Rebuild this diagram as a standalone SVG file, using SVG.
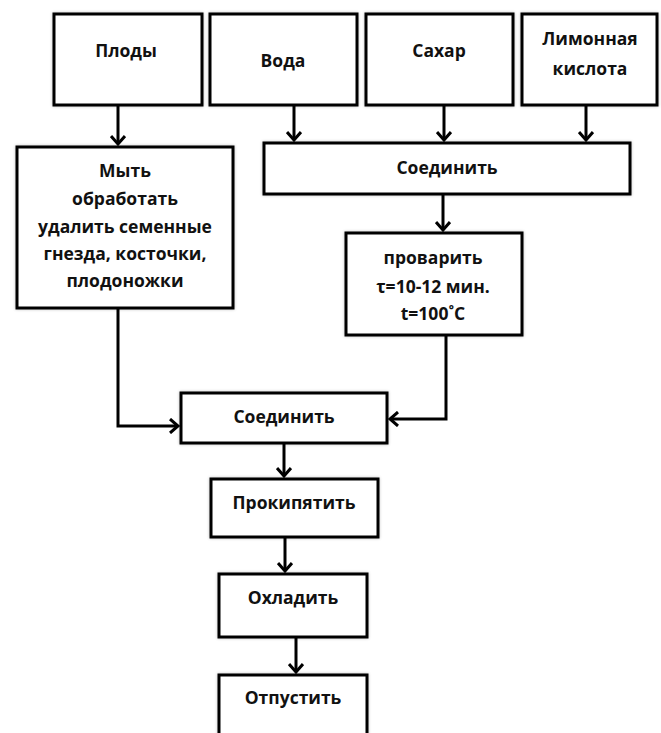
<svg xmlns="http://www.w3.org/2000/svg" width="661" height="733" viewBox="0 0 661 733">
<defs>
<style>
.box{fill:#fff;stroke:#000;stroke-width:3;filter:url(#sh)}
.t{font-family:"Open Sans","Liberation Sans",sans-serif;font-weight:bold;font-size:17.5px;fill:#111;text-anchor:middle;dominant-baseline:central}
.c{fill:none;stroke:#000;stroke-width:3;marker-end:url(#ah)}
</style>
<filter id="sh" x="-10%" y="-10%" width="120%" height="120%">
<feGaussianBlur in="SourceAlpha" stdDeviation="1.5" result="b"/>
<feFlood flood-color="#000" flood-opacity="0.25"/>
<feComposite in2="b" operator="in" result="s"/>
<feMerge><feMergeNode in="s"/><feMergeNode in="SourceGraphic"/></feMerge>
</filter>
<marker id="ah" markerUnits="userSpaceOnUse" markerWidth="14" markerHeight="16" refX="10" refY="8" orient="auto">
<path d="M2,1 L10,8 L2,15" fill="none" stroke="#000" stroke-width="3"/>
</marker>
</defs>
<rect width="661" height="733" fill="#fff"/>
<g id="plody"><rect class="box" x="54" y="14" width="148" height="91"/><text class="t" x="126" y="50">Плоды</text></g>
<g id="voda"><rect class="box" x="210" y="14" width="147" height="91"/><text class="t" x="283" y="60">Вода</text></g>
<g id="sakhar"><rect class="box" x="366" y="14" width="147" height="91"/><text class="t" x="439" y="50">Сахар</text></g>
<g id="limon"><rect class="box" x="522" y="14" width="135" height="91"/><text class="t" x="590" y="38">Лимонная</text><text class="t" x="590" y="68">кислота</text></g>
<g id="myt"><rect class="box" x="17" y="147" width="216" height="161"/>
<text class="t" x="125" y="170">Мыть</text>
<text class="t" x="125" y="198">обработать</text>
<text class="t" x="125" y="226">удалить семенные</text>
<text class="t" x="125" y="253">гнезда, косточки,</text>
<text class="t" x="125" y="280">плодоножки</text></g>
<g id="soed1"><rect class="box" x="264" y="143" width="366" height="51"/><text class="t" x="447" y="167">Соединить</text></g>
<g id="provarit"><rect class="box" x="346" y="233" width="176" height="102"/>
<text class="t" x="433" y="257">проварить</text>
<text class="t" x="433" y="286">τ=10-12 мин.</text>
<text class="t" x="433" y="313">t=100˚C</text></g>
<g id="soed2"><rect class="box" x="181" y="393" width="206" height="50"/><text class="t" x="284" y="416">Соединить</text></g>
<g id="prokip"><rect class="box" x="211" y="479" width="167" height="58"/><text class="t" x="294" y="502">Прокипятить</text></g>
<g id="okhlad"><rect class="box" x="219" y="574" width="148" height="63"/><text class="t" x="293" y="597">Охладить</text></g>
<g id="otpust"><rect class="box" x="219" y="675" width="148" height="70"/><text class="t" x="293" y="697">Отпустить</text></g>
<g id="connectors">
<path class="c" d="M118,105 V144"/>
<path class="c" d="M294,105 V140"/>
<path class="c" d="M444,105 V140"/>
<path class="c" d="M586,105 V140"/>
<path class="c" d="M443,194 V230"/>
<path class="c" d="M118,308 V426 H178"/>
<path class="c" d="M446,335 V419 H390"/>
<path class="c" d="M284,443 V476"/>
<path class="c" d="M285,537 V571"/>
<path class="c" d="M296,637 V672"/>
</g>
</svg>
